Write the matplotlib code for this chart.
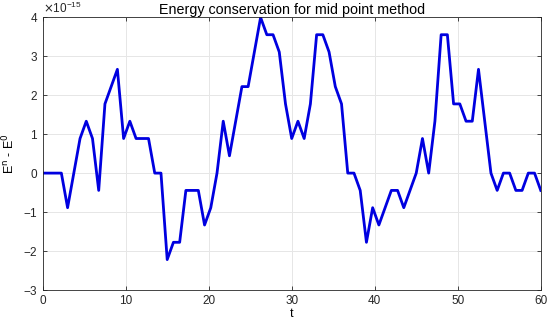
import matplotlib

matplotlib.use("Agg")
import matplotlib.pyplot as plt
import numpy as np

plt.rcParams.update({
    "font.family": ["Liberation Sans", "DejaVu Sans"],
    "font.size": 8,
    "xtick.direction": "in",
    "ytick.direction": "in",
    "xtick.top": True,
    "ytick.right": True,
    "axes.linewidth": 0.6,
})

# time grid (step 0.75) and energy drift E^n - E^0 in units of 1e-15
t = np.arange(0, 60.0001, 0.75)
dE = [
    0, 0, 0, 0, -0.888, 0, 0.888, 1.332, 0.888, -0.444,
    1.776, 2.22, 2.664, 0.888, 1.332, 0.888, 0.888, 0.888, 0, 0,
    -2.22, -1.776, -1.776, -0.444, -0.444, -0.444, -1.332, -0.888, 0, 1.332,
    0.444, 1.332, 2.22, 2.22, 3.108, 3.996, 3.552, 3.552, 3.108, 1.776,
    0.888, 1.332, 0.888, 1.776, 3.552, 3.552, 3.108, 2.22, 1.776, 0,
    0, -0.444, -1.776, -0.888, -1.332, -0.888, -0.444, -0.444, -0.888, -0.444,
    0, 0.888, 0, 1.332, 3.552, 3.552, 1.776, 1.776, 1.332, 1.332,
    2.664, 1.332, 0, -0.444, 0, 0, -0.444, -0.444, 0, 0,
    -0.444,
]
dE = np.array(dE) * 1e-15

fig = plt.figure(figsize=(5.5, 3.22), dpi=100)
ax = fig.add_axes([0.0776, 0.0994, 0.9056, 0.847])
ax.plot(t, dE, color="#0000e0", lw=2)

ax.set_xlim(0, 60)
ax.set_ylim(-3e-15, 4e-15)
ax.set_xticks(np.arange(0, 61, 10))
ax.set_yticks(np.arange(-3, 5) * 1e-15)
ax.ticklabel_format(axis="y", style="sci", scilimits=(0, 0), useMathText=True)
ax.yaxis.get_offset_text().set_fontsize(8.5)
ax.grid(True, color="#e6e6e6", lw=0.7)
ax.set_axisbelow(True)
ax.tick_params(length=3, width=0.6, colors="#262626", labelsize=8.5)
for s in ax.spines.values():
    s.set_color("#262626")

ax.set_title("Energy conservation for mid point method", fontsize=10.3, pad=2)
ax.set_xlabel("t", labelpad=1, fontsize=9)
ax.set_ylabel("E$^{\\mathrm{n}}$ - E$^{0}$", labelpad=4, fontsize=9)

fig.savefig("out.png", dpi=100)
